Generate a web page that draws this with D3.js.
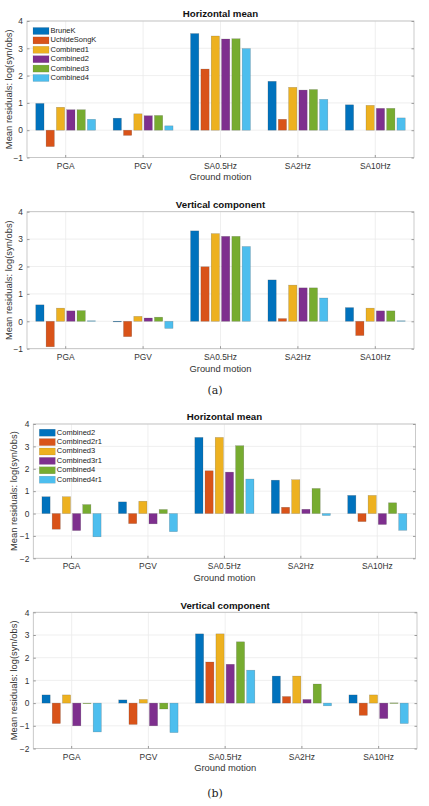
<!DOCTYPE html>
<html><head><meta charset="utf-8">
<script src="https://cdn.jsdelivr.net/npm/d3@7"></script>
<style>
html,body{margin:0;padding:0;background:#fff;}
svg{display:block;}
text{font-family:"Liberation Sans",Arial,Helvetica,sans-serif;}
</style>
</head><body>
<svg id="chart" width="429" height="806"></svg>
<script>
const categories = ["PGA","PGV","SA0.5Hz","SA2Hz","SA10Hz"];
const seriesA = ["BruneK","UchideSongK","Combined1","Combined2","Combined3","Combined4"];
const seriesB = ["Combined2","Combined2r1","Combined3","Combined3r1","Combined4","Combined4r1"];
const yTicksA = [-1,0,1,2,3,4];
const yTicksB = [-2,-1,0,1,2,3,4];
const colors = ["#0072BD","#D95319","#EDB120","#7E2F8E","#77AC30","#4DBEEE"];

// (a) Horizontal mean, one row per series, values per category
const horizA_BruneK      = [0.98, 0.44, 3.54, 1.79, 0.93];
const horizA_UchideSongK = [-0.60, -0.19, 2.24, 0.40, 0.00];
const horizA_Combined1   = [0.84, 0.60, 3.45, 1.57, 0.91];
const horizA_Combined2   = [0.75, 0.53, 3.34, 1.47, 0.80];
const horizA_Combined3   = [0.75, 0.54, 3.35, 1.49, 0.80];
const horizA_Combined4   = [0.40, 0.16, 2.99, 1.13, 0.45];
// (a) Vertical component
const vertA_BruneK      = [0.60, -0.01, 3.30, 1.51, 0.50];
const vertA_UchideSongK = [-0.93, -0.56, 1.99, 0.10, -0.52];
const vertA_Combined1   = [0.48, 0.18, 3.20, 1.32, 0.48];
const vertA_Combined2   = [0.38, 0.12, 3.10, 1.22, 0.38];
const vertA_Combined3   = [0.39, 0.15, 3.10, 1.22, 0.38];
const vertA_Combined4   = [0.02, -0.26, 2.73, 0.85, 0.02];
// (b) Horizontal mean
const horizB_Combined2   = [0.75, 0.52, 3.40, 1.49, 0.81];
const horizB_Combined2r1 = [-0.70, -0.45, 1.91, 0.28, -0.36];
const horizB_Combined3   = [0.75, 0.55, 3.40, 1.51, 0.81];
const horizB_Combined3r1 = [-0.76, -0.46, 1.85, 0.19, -0.49];
const horizB_Combined4   = [0.40, 0.18, 3.03, 1.12, 0.48];
const horizB_Combined4r1 = [-1.04, -0.81, 1.54, -0.09, -0.75];
// (b) Vertical component
const vertB_Combined2   = [0.36, 0.14, 3.05, 1.19, 0.36];
const vertB_Combined2r1 = [-0.90, -0.94, 1.81, 0.29, -0.54];
const vertB_Combined3   = [0.36, 0.16, 3.05, 1.19, 0.36];
const vertB_Combined3r1 = [-1.00, -1.00, 1.71, 0.16, -0.68];
const vertB_Combined4   = [-0.01, -0.26, 2.70, 0.84, 0.01];
const vertB_Combined4r1 = [-1.27, -1.30, 1.45, -0.12, -0.90];

const svg = d3.select("#chart");

function panel(cfg){
  const {left,right,top,bottom,domain,ticks,series,values,title,legend,ylabX,legX,legY} = cfg;
  const g = svg.append("g");
  const x = d3.scaleBand().domain(categories).range([left,right]).paddingInner(0).paddingOuter(0);
  const y = d3.scaleLinear().domain(domain).range([bottom,top]);
  const bw = x.bandwidth();
  const groupW = bw*0.8;
  const xs = d3.scaleBand().domain(series).range([0,groupW]).paddingInner(0.2).paddingOuter(0.1);

  // grid
  g.append("g").selectAll("line").data(ticks).join("line")
    .attr("x1",left).attr("x2",right).attr("y1",d=>y(d)).attr("y2",d=>y(d))
    .attr("stroke","#ebebeb").attr("stroke-width",0.8);
  g.append("g").selectAll("line").data(categories).join("line")
    .attr("x1",d=>x(d)+bw/2).attr("x2",d=>x(d)+bw/2).attr("y1",top).attr("y2",bottom)
    .attr("stroke","#ebebeb").attr("stroke-width",0.8);

  // bars
  series.forEach((s,i)=>{
    g.append("g").selectAll("rect").data(categories.map((c,j)=>({c,v:values[i][j]})).filter(d=>d.v!==0)).join("rect")
      .attr("x",d=>x(d.c)+(bw-groupW)/2+xs(s))
      .attr("width",xs.bandwidth())
      .attr("y",d=>Math.min(y(d.v),y(0)))
      .attr("height",d=>Math.max(Math.abs(y(d.v)-y(0)),0.6))
      .attr("fill",colors[i])
      .attr("stroke","#3a3a3a").attr("stroke-opacity",0.35).attr("stroke-width",0.5);
  });

  // axes box
  g.append("rect").attr("x",left).attr("y",top).attr("width",right-left).attr("height",bottom-top)
    .attr("fill","none").attr("stroke","#bdbdbd").attr("stroke-width",0.8);

  // y axis
  const ya = d3.axisLeft(y).tickValues(ticks).tickSize(-2.5).tickPadding(4).tickFormat(d3.format("d"));
  const yg = g.append("g").attr("transform",`translate(${left},0)`).call(ya);
  yg.select(".domain").remove();
  yg.selectAll("line").attr("stroke","#9a9a9a");
  yg.selectAll("text").attr("fill","#333").style("font-size","8.4px");
  const ya2 = d3.axisRight(y).tickValues(ticks).tickSize(-2.5).tickFormat("");
  const yg2 = g.append("g").attr("transform",`translate(${right},0)`).call(ya2);
  yg2.select(".domain").remove();
  yg2.selectAll("line").attr("stroke","#9a9a9a");

  // x axis
  const xa = d3.axisBottom(x).tickSize(-2.5).tickPadding(5.2);
  const xg = g.append("g").attr("transform",`translate(0,${bottom})`).call(xa);
  xg.select(".domain").remove();
  xg.selectAll("line").attr("stroke","#9a9a9a");
  xg.selectAll("text").attr("fill","#333").style("font-size","8.4px");

  g.append("text").attr("x",(left+right)/2).attr("y",bottom+22.8).attr("text-anchor","middle")
    .attr("fill","#333").style("font-size","9.4px").text("Ground motion");
  g.append("text").attr("transform",`translate(${ylabX},${(top+bottom)/2}) rotate(-90)`)
    .attr("text-anchor","middle").attr("dominant-baseline","middle")
    .attr("fill","#333").style("font-size","9.4px").text("Mean residuals: log(syn/obs)");
  g.append("text").attr("x",(left+right)/2).attr("y",top-3.6).attr("text-anchor","middle")
    .attr("fill","#111").style("font-size","9.7px").style("font-weight","bold").text(title);

  if(legend){
    const lg = g.append("g");
    series.forEach((s,i)=>{
      const yy = legY + i*9.4;
      lg.append("rect").attr("x",legX).attr("y",yy-3.5).attr("width",16).attr("height",7)
        .attr("fill",colors[i]).attr("stroke","#3a3a3a").attr("stroke-opacity",0.3).attr("stroke-width",0.4);
      lg.append("text").attr("x",legX+17.5).attr("y",yy).attr("dominant-baseline","middle")
        .attr("fill","#222").style("font-size","7.5px").text(s);
    });
  }
}

panel({left:27,right:414,top:21,bottom:157.5,domain:[-1,4],ticks:yTicksA,series:seriesA,
  values:[horizA_BruneK,horizA_UchideSongK,horizA_Combined1,horizA_Combined2,horizA_Combined3,horizA_Combined4],
  title:"Horizontal mean",legend:true,ylabX:10,legX:33,legY:31});
panel({left:27,right:414,top:211.7,bottom:348.7,domain:[-1,4],ticks:yTicksA,series:seriesA,
  values:[vertA_BruneK,vertA_UchideSongK,vertA_Combined1,vertA_Combined2,vertA_Combined3,vertA_Combined4],
  title:"Vertical component",legend:false,ylabX:10});
panel({left:33.3,right:415.5,top:424,bottom:558.3,domain:[-2,4],ticks:yTicksB,series:seriesB,
  values:[horizB_Combined2,horizB_Combined2r1,horizB_Combined3,horizB_Combined3r1,horizB_Combined4,horizB_Combined4r1],
  title:"Horizontal mean",legend:true,ylabX:15,legX:39.3,legY:432.7});
panel({left:33.3,right:417,top:612.3,bottom:748.5,domain:[-2,4],ticks:yTicksB,series:seriesB,
  values:[vertB_Combined2,vertB_Combined2r1,vertB_Combined3,vertB_Combined3r1,vertB_Combined4,vertB_Combined4r1],
  title:"Vertical component",legend:false,ylabX:15});

svg.append("text").attr("x",215).attr("y",394).attr("text-anchor","middle")
  .style("font-family","'DejaVu Serif','Liberation Serif',serif").style("font-size","11px").attr("fill","#222").text("(a)");
svg.append("text").attr("x",215).attr("y",797).attr("text-anchor","middle")
  .style("font-family","'DejaVu Serif','Liberation Serif',serif").style("font-size","11px").attr("fill","#222").text("(b)");
</script>
</body></html>
